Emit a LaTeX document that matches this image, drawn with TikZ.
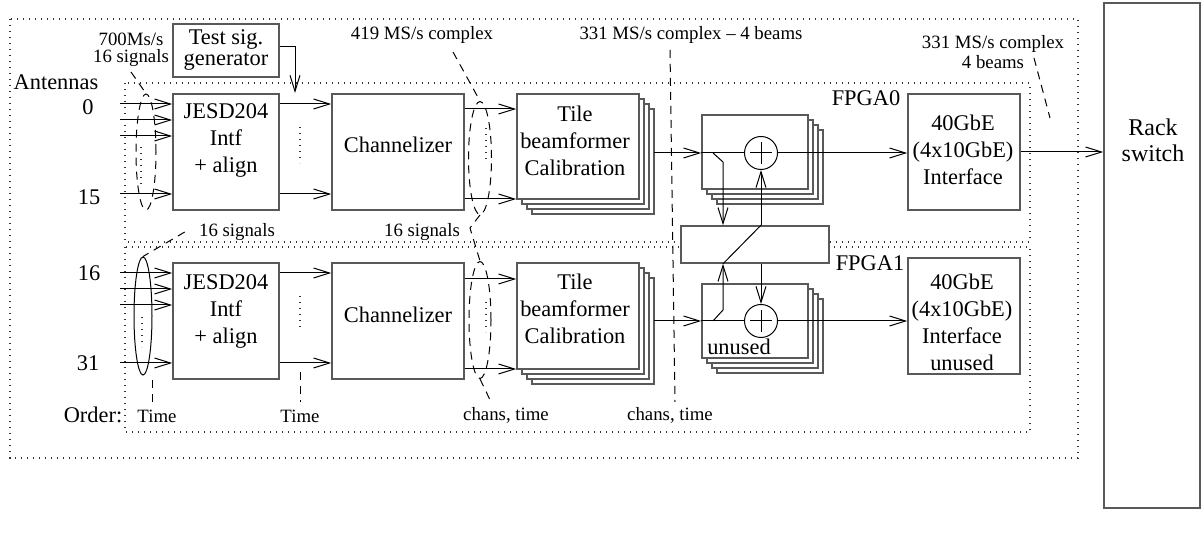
\documentclass[tikz,border=0pt]{standalone}
\usepackage{fontspec}
\setmainfont{Liberation Serif}
\usepackage{tikz}
\usetikzlibrary{arrows.meta,shapes.geometric,calc}
\newcommand\bigtxt{\fontsize{11.2}{13.5}\selectfont}
\newcommand\smalltxt{\fontsize{9.4}{10}\selectfont}
\tikzset{
  blk/.style={draw=black!65, line width=0.8pt, fill=white, inner sep=0pt},
  sig/.style={draw=black, line width=0.5pt, -{Straight Barb[length=8pt,width=5pt]}},
  wire/.style={draw=black, line width=0.5pt},
  dots/.style={draw=black!80, line width=0.6pt, dash pattern=on 0.6pt off 2.4pt},
  lead/.style={draw=black, line width=0.5pt, dash pattern=on 4pt off 3pt},
  bunch/.style={ellipse, draw=black, line width=0.5pt, inner sep=0pt},
  sumnode/.style={circle, draw=black, line width=0.5pt, fill=white, minimum size=16.5pt, inner sep=0pt},
  lab/.style={font=\smalltxt, align=center, inner sep=0pt},
  txt/.style={font=\bigtxt, align=center, inner sep=0pt},
}

\begin{document}
\begin{tikzpicture}[x=0.5pt,y=-0.5pt]
  \useasboundingbox (0,0) rectangle (1201,533);
  % enclosures: board, FPGA0, FPGA1
  \draw[dots] (10,19) rectangle (1078,458);
  \draw[dots] (125,83) rectangle (1030,242);
  \draw[dots] (125,247) rectangle (1030,432);

  % copies behind the beamformer and adder blocks
  \foreach \k in {3,2,1} {
    \draw[blk] (517+5*\k,94+5*\k) rectangle +(122,105);
    \draw[blk] (517+5*\k,263+5*\k) rectangle +(122,106);
    \draw[blk] (702+5*\k,115+5*\k) rectangle +(106,74);
    \draw[blk] (702+5*\k,284+5*\k) rectangle +(106,74);
  }

  % blocks
  \node[blk, minimum width=53pt, minimum height=26.5pt, txt] (tsg) at (226,50.5) {Test sig.\\[-3pt]generator};
  \node[blk, minimum width=53pt, minimum height=58pt] (jesdA) at (226,152) {};
  \node[blk, minimum width=53pt, minimum height=58pt] (jesdB) at (226,321) {};
  \node[blk, minimum width=66pt, minimum height=58pt] (chanA) at (398,152) {};
  \node[blk, minimum width=66pt, minimum height=58pt] (chanB) at (398,321) {};
  \node[blk, minimum width=61pt, minimum height=52.5pt] (tileA) at (578,146.5) {};
  \node[blk, minimum width=61pt, minimum height=53pt] (tileB) at (578,316) {};
  \node[blk, minimum width=53pt, minimum height=37pt] (addA) at (755,152) {};
  \node[blk, minimum width=53pt, minimum height=37pt] (addB) at (755,321) {};
  \node[blk, minimum width=74pt, minimum height=18.5pt] (xbar) at (755,244.5) {};
  \node[blk, minimum width=56pt, minimum height=58pt] (ethA) at (964,152) {};
  \node[blk, minimum width=56pt, minimum height=58pt] (ethB) at (964,316) {};
  \node[blk, minimum width=48pt, minimum height=252.5pt] (rack) at (1152,255.5) {};
  \node[sumnode] (sumA) at (761,153) {};
  \node[sumnode] (sumB) at (761,321) {};
  \draw[wire] ([xshift=-5.5pt]sumA.center) -- ([xshift=5.5pt]sumA.center);
  \draw[wire] ([yshift=-5.5pt]sumA.center) -- ([yshift=5.5pt]sumA.center);
  \draw[wire] ([xshift=-5.5pt]sumB.center) -- ([xshift=5.5pt]sumB.center);
  \draw[wire] ([yshift=-5.5pt]sumB.center) -- ([yshift=5.5pt]sumB.center);

  % block texts
  \node[txt] (jesdAt) at (226,140) {JESD204\\Intf\\+ align};
  \node[txt] (jesdBt) at (226,311) {JESD204\\Intf\\+ align};
  \node[txt] (chanAt) at (398,145) {Channelizer};
  \node[txt] (chanBt) at (398,315) {Channelizer};
  \node[txt] (tileAt) at (575,140.5) {Tile\\beamformer\\Calibration};
  \node[txt] (tileBt) at (575,308.5) {Tile\\beamformer\\Calibration};
  \node[txt] (ethAt) at (963,150) {40GbE\\(4x10GbE)\\Interface};
  \node[txt] (ethBt) at (962,322.5) {40GbE\\(4x10GbE)\\Interface\\unused};
  \node[txt] (addBt) at (739,347) {unused};
  \node[txt, font=\fontsize{12}{13}\selectfont] (rackt) at (1153,140) {Rack\\switch};
  \node[txt] (fpga0) at (866,98) {FPGA0};
  \node[txt] (fpga1) at (870,263) {FPGA1};
  \node[txt] (antennas) at (56,82) {Antennas};
  \node[txt] (n0) at (88,107) {0};
  \node[txt] (n15) at (89,197) {15};
  \node[txt] (n16) at (89,273) {16};
  \node[txt] (n31) at (88,363) {31};
  \node[txt] (order) at (93,415) {Order:};

  % antenna inputs and row links
  \foreach \y in {104,120,136,194} {
    \coordinate (ant) at (120,\y);
    \draw[sig] (ant) -- (ant -| jesdA.west);
    \coordinate (ant) at (120,\y+169);
    \draw[sig] (ant) -- (ant -| jesdB.west);
  }
  \foreach \y in {104,194} {
    \coordinate (p) at (279,\y);
    \draw[sig] (p -| jesdA.east) -- (p -| chanA.west);
    \coordinate (p) at (279,\y+169);
    \draw[sig] (p -| jesdB.east) -- (p -| chanB.west);
  }
  \foreach \y in {109,199} {
    \coordinate (p) at (464,\y);
    \draw[sig] (p -| chanA.east) -- (p -| tileA.west);
    \coordinate (p) at (464,\y+170);
    \draw[sig] (p -| chanB.east) -- (p -| tileB.west);
  }
  \coordinate (tsgIn) at (295,93);
  \draw[sig] ([yshift=2pt]tsg.east) -| (tsgIn);

  % beam adders and crossbar
  \coordinate (tAo) at (654,153);
  \draw[sig] (tAo) -- (tAo -| addA.west);
  \draw[wire] (tAo -| addA.west) -- (sumA.west);
  \coordinate (spA) at (713,153);
  \coordinate (dnA) at (723,162);
  \draw[sig] (spA) -- (dnA) -- (dnA |- xbar.north);
  \draw[sig] (sumA.south |- xbar.north) -- (sumA.south);
  \draw[wire] (sumA.south |- xbar.north) -- (dnA |- xbar.south);
  \draw[sig] (sumA.east) -- (sumA.east -| ethA.west);
  \coordinate (tBo) at (654,321);
  \draw[sig] (tBo) -- (tBo -| addB.west);
  \draw[wire] (tBo -| addB.west) -- (sumB.west);
  \coordinate (spB) at (713,321);
  \coordinate (upB) at (723,310);
  \draw[sig] (spB) -- (upB) -- (upB |- xbar.south);
  \draw[sig] (sumB.north |- xbar.south) -- (sumB.north);
  \draw[sig] (sumB.east) -- (sumB.east -| ethB.west);
  \draw[sig] (ethA.east) -- (ethA.east -| rack.west);

  % signal bundles
  \node[bunch, lead, minimum width=10pt, minimum height=58pt] (inA) at (146,152) {};
  \node[bunch, minimum width=9pt, minimum height=59pt] (inB) at (143,316) {};
  \node[bunch, lead, minimum width=11.5pt, minimum height=56.5pt] (chA) at (480,158) {};
  \node[bunch, lead, minimum width=11pt, minimum height=58.5pt] (chB) at (480,320) {};
  \draw[dots] (141,147) -- (141,187);
  \draw[dots] (142,317) -- (142,347);
  \draw[dots] (486,128) -- (486,163);
  \draw[dots] (486,302) -- (486,332);
  \draw[dots] (300,127) -- (300,163);
  \draw[dots] (300,296) -- (300,331);

  % rate and order labels
  \node[lab] (lbl700) at (131,50) {700Ms/s\\[-1.5pt]16 signals};
  \node[lab] (lbl16a) at (237,232) {16 signals};
  \node[lab] (lbl419) at (422,35) {419 MS/s complex};
  \node[lab] (lbl16b) at (422,232) {16 signals};
  \node[lab] (lbl331a) at (691,35) {331 MS/s complex -- 4 beams};
  \node[lab] (lbl331b) at (993,52) {331 MS/s complex\\4 beams};
  \node[lab] (time1) at (157,416) {Time};
  \node[lab] (time2) at (300,416) {Time};
  \node[lab] (chans1) at (506,415) {chans, time};
  \node[lab] (chans2) at (670,415) {chans, time};

  % leaders
  \coordinate (c700) at (131,72);
  \draw[lead] (c700) -- (inA.north);
  \draw[lead] ([xshift=-7pt]lbl16a.west) -- (inB.north);
  \coordinate (t1a) at (152,380);
  \coordinate (t1b) at (152,402);
  \draw[lead] (t1a) -- (t1b);
  \coordinate (t2a) at (300,372);
  \coordinate (t2b) at (300,402);
  \draw[lead] (t2a) -- (t2b);
  \coordinate (c419) at (453,52);
  \draw[lead] (c419) -- (chA.north);
  \coordinate (c16) at (470,228);
  \draw[lead] (chA.south) -- (c16) -- (chB.north);
  \coordinate (cch) at (492,404);
  \draw[lead] (chB.south) -- (cch);
  \coordinate (v1) at (670,50);
  \coordinate (v2) at (675,402);
  \draw[lead] (v1) -- (v2);
  \coordinate (c331a) at (1034,58);
  \coordinate (c331b) at (1050,118);
  \draw[lead] (c331a) -- (c331b);
\end{tikzpicture}
\end{document}
